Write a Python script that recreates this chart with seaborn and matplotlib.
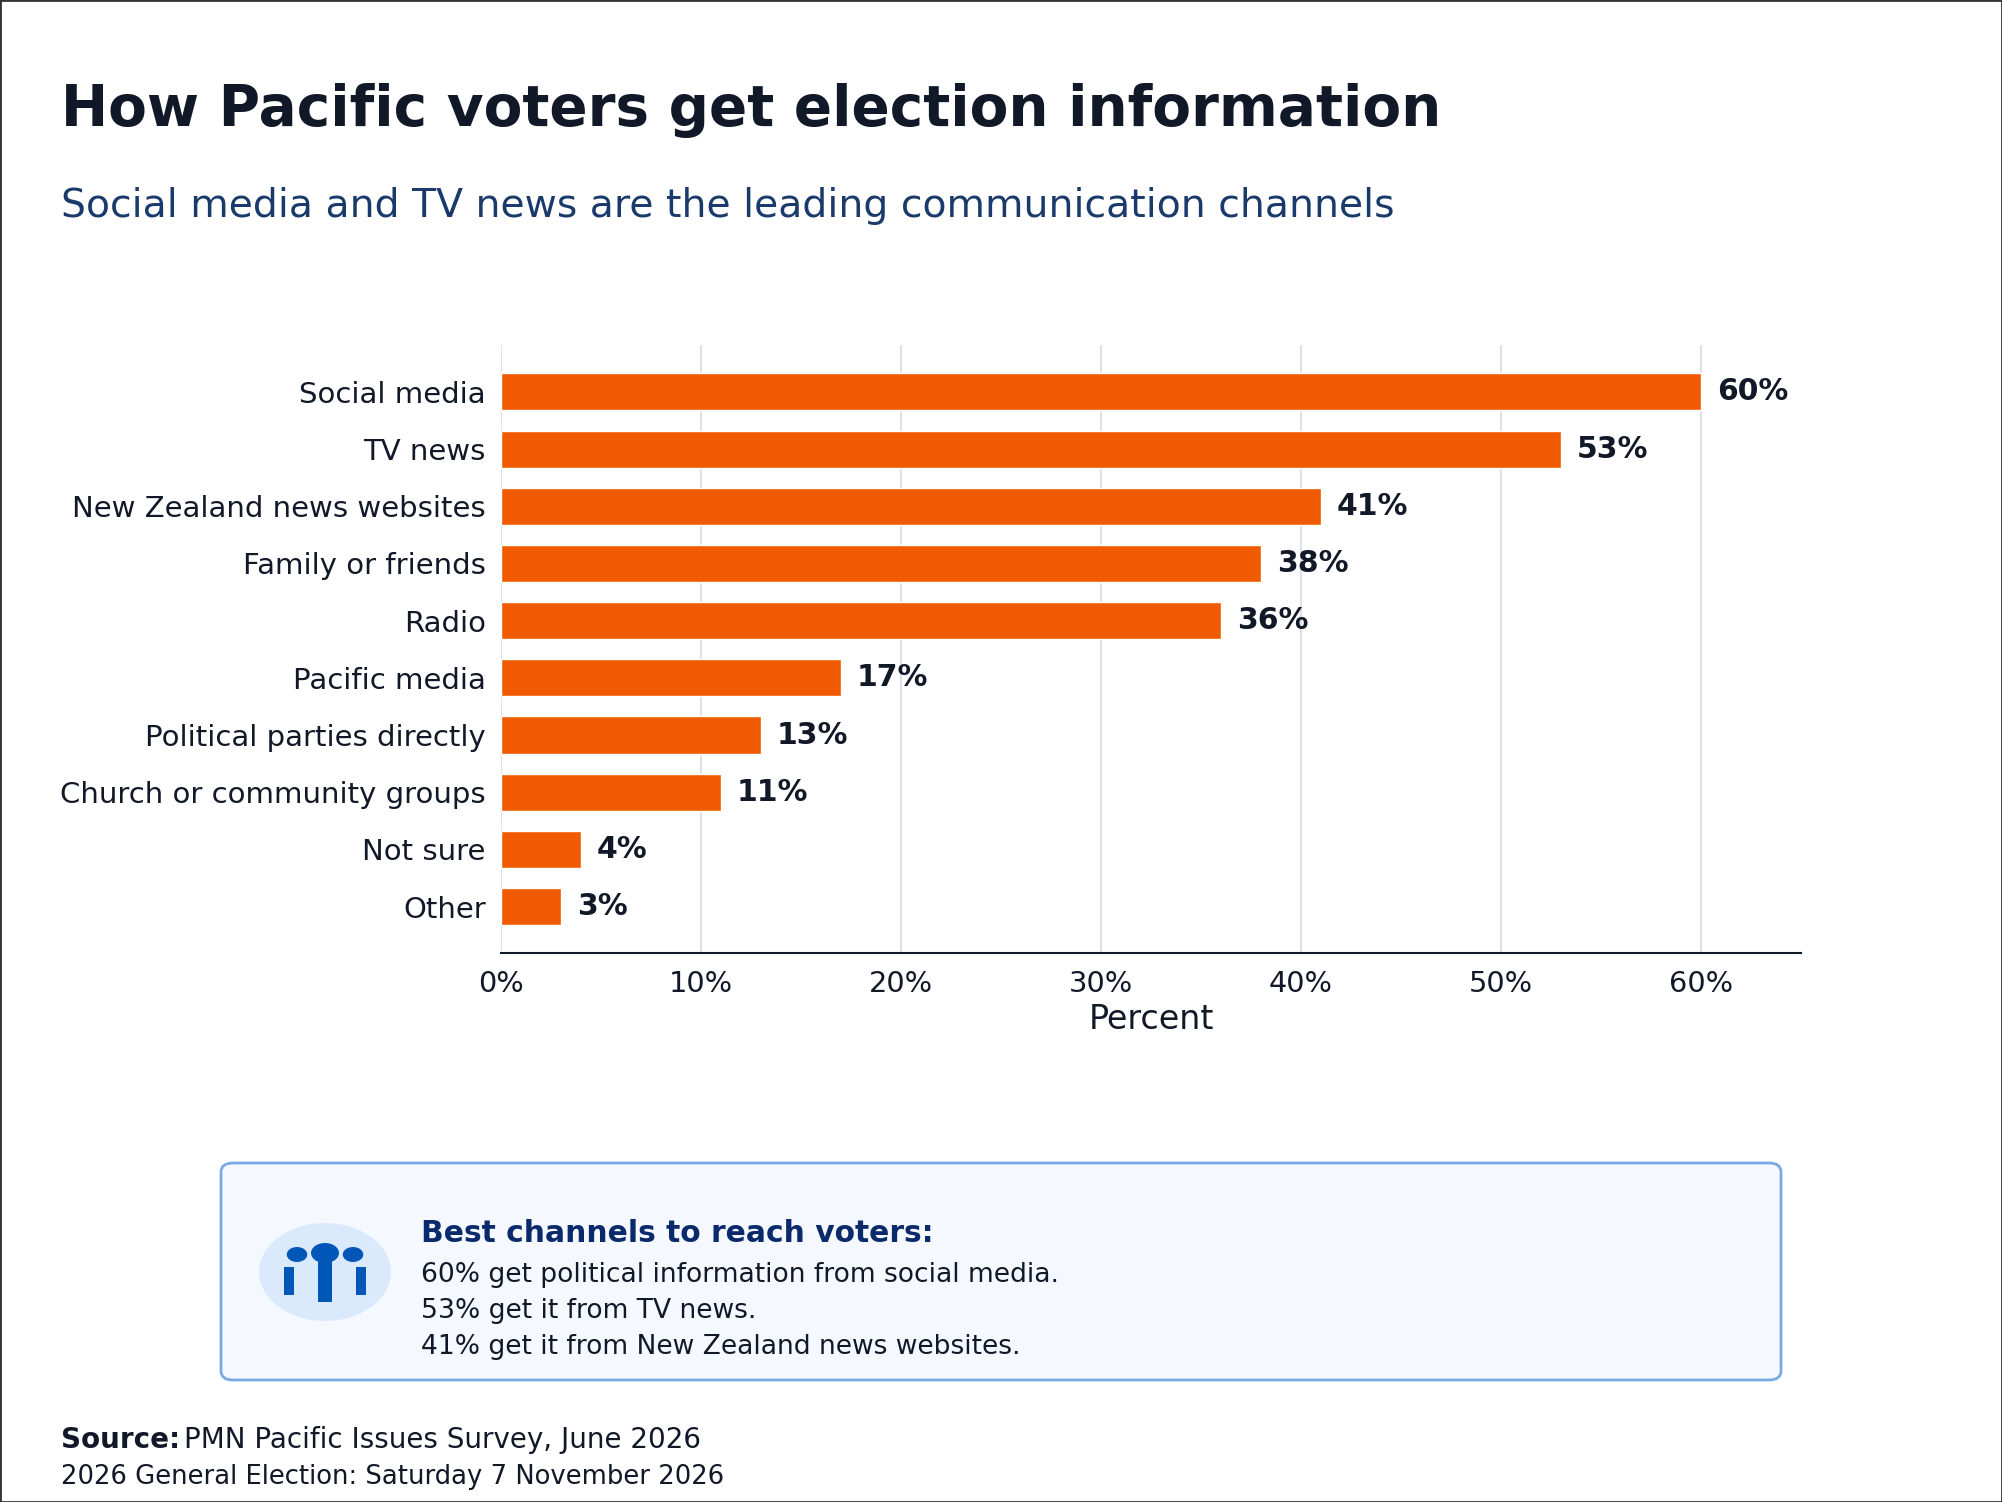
import matplotlib
matplotlib.use("Agg")
import matplotlib.pyplot as plt
import seaborn as sns
import pandas as pd
from matplotlib.patches import FancyBboxPatch, Ellipse, Rectangle

categories = ["Social media", "TV news", "New Zealand news websites", "Family or friends",
              "Radio", "Pacific media", "Political parties directly",
              "Church or community groups", "Not sure", "Other"]
values = [60, 53, 41, 38, 36, 17, 13, 11, 4, 3]
xticks = [0, 10, 20, 30, 40, 50, 60]
xtick_labels = ["0%", "10%", "20%", "30%", "40%", "50%", "60%"]

title = "How Pacific voters get election information"
subtitle = "Social media and TV news are the leading communication channels"
callout_title = "Best channels to reach voters:"
callout_lines = ["60% get political information from social media.",
                 "53% get it from TV news.",
                 "41% get it from New Zealand news websites."]

sns.set_style("white")
plt.rcParams['font.family'] = ['DejaVu Sans']

DARK = "#111827"
ORANGE = "#F05A00"

W, H = 2002, 1502
fig = plt.figure(figsize=(W / 100, H / 100), dpi=100)

df = pd.DataFrame({"category": categories, "value": values})

ax = fig.add_axes([501 / W, 1 - 953 / H, 1300 / W, 608 / H])
sns.barplot(data=df, x="value", y="category", orient="h", color=ORANGE,
            width=0.65, saturation=1, ax=ax, zorder=3)
ax.set_xlim(0, 65)
ax.set_ylim(9.81, -0.82)
ax.set_xticks(xticks)
ax.set_xticklabels(xtick_labels)
ax.grid(axis="x", color="#dcdde8", linewidth=1.3, zorder=0)
ax.grid(axis="y", visible=False)
for s in ["top", "right", "left"]:
    ax.spines[s].set_visible(False)
ax.spines["bottom"].set_color(DARK)
ax.spines["bottom"].set_linewidth(1.5)
ax.tick_params(axis="x", colors=DARK, labelsize=20.8, length=6, width=1.3, direction="out", pad=6)
ax.tick_params(axis="y", colors=DARK, labelsize=21, length=0, pad=11)
ax.set_ylabel("")
ax.set_xlabel("Percent", fontsize=24, color=DARK, labelpad=4)

for i, v in enumerate(values):
    ax.annotate(f"{v}%", xy=(v, i), xytext=(11.5, 0), textcoords="offset points",
                ha="left", va="center", fontsize=21.5, fontweight="bold", color=DARK)

fig.text(61 / W, 1 - 110 / H, title, fontsize=40.7, fontweight="bold", color=DARK,
         ha="left", va="center")
fig.text(61 / W, 1 - 206 / H, subtitle, fontsize=28.4, color="#1a3a6b",
         ha="left", va="center")

# callout box
box = FancyBboxPatch((221 / W, 1 - 1380 / H), (1781 - 221) / W, (1380 - 1163) / H,
                     boxstyle="round,pad=0,rounding_size=0.006",
                     transform=fig.transFigure, facecolor="#f5f9ff",
                     edgecolor="#7aaae6", linewidth=2)
fig.patches.append(box)
cx, cy = 325, 1272
fig.patches.append(Ellipse((cx / W, 1 - cy / H), 132 / W, 98 / H,
                           transform=fig.transFigure, facecolor="#dbe9fd", edgecolor="none"))
ICON = "#0057b8"
# center figure
fig.patches.append(Ellipse((cx / W, 1 - 1253 / H), 28 / W, 20 / H,
                           transform=fig.transFigure, facecolor=ICON, edgecolor="none"))
fig.patches.append(Rectangle(((cx - 7) / W, 1 - 1302 / H), 14 / W, 42 / H,
                             transform=fig.transFigure, facecolor=ICON, edgecolor="none"))
for hdx, bdx in ((-28, -36), (28, 36)):
    fig.patches.append(Ellipse(((cx + hdx) / W, 1 - 1254.5 / H), 20.5 / W, 15 / H,
                               transform=fig.transFigure, facecolor=ICON, edgecolor="none"))
    fig.patches.append(Rectangle(((cx + bdx - 5) / W, 1 - 1295 / H), 10 / W, 28 / H,
                                 transform=fig.transFigure, facecolor=ICON, edgecolor="none"))

fig.text(421 / W, 1 - 1234 / H, callout_title, fontsize=21.4, fontweight="bold",
         color="#0b2a6b", ha="left", va="center")
for k, line in enumerate(callout_lines):
    fig.text(421 / W, 1 - (1275.5 + 36 * k) / H, line, fontsize=19.1, color=DARK,
             ha="left", va="center")

fig.text(61 / W, 1 - 1440.5 / H, "Source:", fontsize=20, fontweight="bold",
         color=DARK, ha="left", va="center")
fig.text(184 / W, 1 - 1440.5 / H, "PMN Pacific Issues Survey, June 2026", fontsize=20,
         color=DARK, ha="left", va="center")
fig.text(61 / W, 1 - 1477.5 / H, "2026 General Election: Saturday 7 November 2026",
         fontsize=18.65, color=DARK, ha="left", va="center")

fig.patches.append(Rectangle((0, 0), 1, 1, transform=fig.transFigure, fill=False,
                             edgecolor="#333333", linewidth=2))

fig.savefig("out.png", dpi=100, facecolor="white")
